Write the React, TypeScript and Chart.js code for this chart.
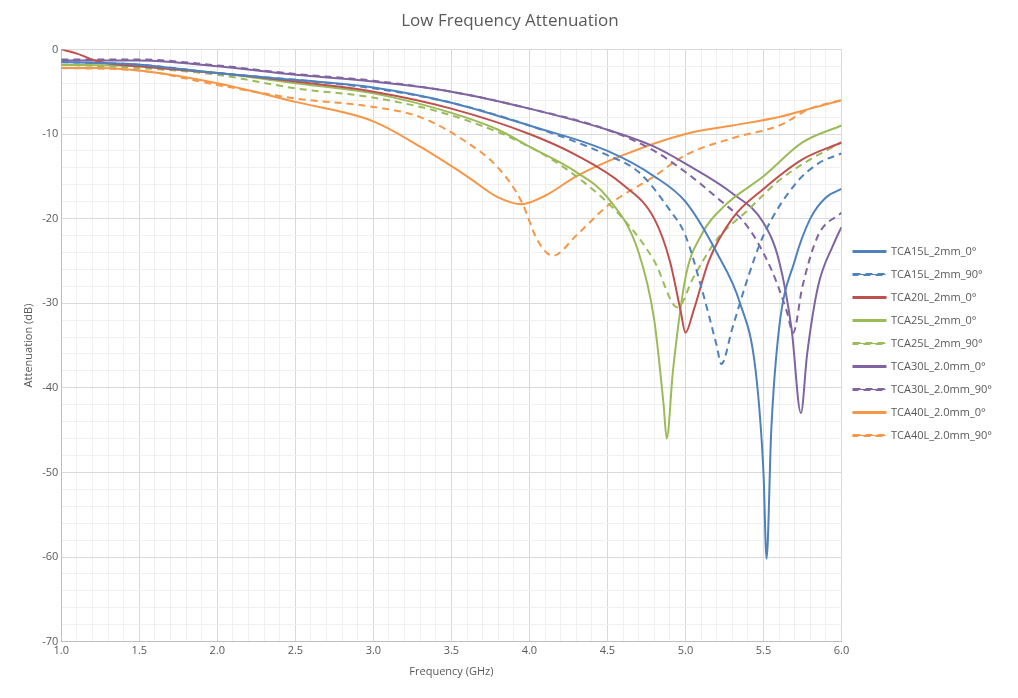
import React, { useEffect, useRef } from "react";
import { Chart, registerables } from "chart.js";
Chart.register(...registerables);

const labels15_0 = [1.0,1.5,2.0,2.5,3.0,3.5,4.0,4.5,4.8,5.0,5.2,5.35,5.45,5.5,5.52,5.55,5.6,5.7,5.8,5.9,6.0];
const vals15_0 = [-1.5,-1.8,-2.8,-3.6,-4.5,-6.3,-9,-12,-15,-18,-24,-30,-38,-50,-60.2,-45,-33,-25,-20,-17.5,-16.5];
const x15_90 = [1.0,1.5,2.0,2.5,3.0,3.5,4.0,4.5,4.7,4.9,5.0,5.1,5.2,5.23,5.3,5.4,5.5,5.7,5.85,6.0];
const y15_90 = [-1.5,-1.8,-2.8,-3.6,-4.6,-6.3,-9,-12.5,-14.5,-19,-22,-28,-35,-37.2,-33,-27,-22,-16,-13.5,-12.3];
const x20_0 = [1.0,1.1,1.25,1.5,2.0,2.5,3.0,3.5,4.0,4.3,4.6,4.8,4.9,4.97,5.0,5.05,5.15,5.3,5.5,5.75,6.0];
const y20_0 = [0,-0.5,-1.5,-2.0,-2.8,-3.8,-5,-7,-10,-12.5,-16,-20,-25,-31,-33.5,-31,-25,-20,-16.5,-13,-11];
const x25_0 = [1.0,1.5,2.0,2.5,3.0,3.5,3.8,4.0,4.3,4.5,4.7,4.8,4.86,4.88,4.92,5.0,5.1,5.25,5.5,5.75,6.0];
const y25_0 = [-1.8,-2,-2.8,-4,-5.2,-7.5,-9.5,-11.5,-14.5,-17.5,-24,-32,-42,-46,-38,-27,-22,-18.5,-15,-11,-9];
const x25_90 = [1.0,1.5,2.0,2.5,3.0,3.5,4.0,4.3,4.6,4.8,4.95,5.05,5.2,5.4,5.6,5.8,6.0];
const y25_90 = [-1.8,-2.2,-3,-4.6,-5.7,-7.8,-11.5,-15,-20,-25,-30.5,-27,-22.5,-19,-15.5,-13,-11];
const x30_0 = [1.0,1.5,2.0,2.5,3.0,3.5,4.0,4.5,4.8,5.0,5.3,5.5,5.6,5.68,5.74,5.78,5.85,5.95,6.0];
const y30_0 = [-1.3,-1.3,-2,-3,-3.8,-5,-7,-9.5,-11.5,-13.5,-17,-20.5,-25,-33,-43,-36,-28,-23,-21];
const x30_90 = [1.0,1.5,2.0,2.5,3.0,3.5,4.0,4.5,4.8,5.0,5.2,5.4,5.55,5.65,5.69,5.75,5.85,6.0];
const y30_90 = [-1.2,-1.2,-1.9,-2.9,-3.7,-5,-7,-9.5,-12,-14.5,-17.5,-21,-26,-31,-33.5,-28,-22,-19.3];
const x40_0 = [1.0,1.25,1.5,2.0,2.5,3.0,3.3,3.6,3.8,3.95,4.1,4.3,4.6,5.0,5.3,5.6,5.8,6.0];
const y40_0 = [-2.2,-2.2,-2.5,-4,-6.2,-8.5,-11.5,-15,-17.5,-18.3,-17.3,-15,-12.5,-10,-9,-8,-7,-6];
const x40_90 = [1.0,1.5,2.0,2.5,3.0,3.3,3.6,3.8,3.95,4.05,4.15,4.3,4.5,4.8,5.0,5.3,5.6,5.8,6.0];
const y40_90 = [-2.2,-2.5,-4.2,-5.8,-6.8,-8,-11,-14,-18,-22.5,-24.4,-22,-18.5,-15,-12.5,-10.5,-9,-7,-6];

const names = ["TCA15L_2mm_0°","TCA15L_2mm_90°","TCA20L_2mm_0°","TCA25L_2mm_0°","TCA25L_2mm_90°","TCA30L_2.0mm_0°","TCA30L_2.0mm_90°","TCA40L_2.0mm_0°","TCA40L_2.0mm_90°"];
const xs = [labels15_0,x15_90,x20_0,x25_0,x25_90,x30_0,x30_90,x40_0,x40_90];
const ys = [vals15_0,y15_90,y20_0,y25_0,y25_90,y30_0,y30_90,y40_0,y40_90];
const colors = ["#4f81bd","#4f81bd","#c0504d","#9bbb59","#9bbb59","#8064a2","#8064a2","#f79646","#f79646"];
const dashed = [false,true,false,false,true,false,true,false,true];

export default function App() {
  const ref = useRef<HTMLCanvasElement>(null);
  useEffect(() => {
    document.body.style.margin = "0";
    const font = "'Open Sans', sans-serif";
    const chart = new Chart(ref.current!, {
      type: "line",
      data: {
        datasets: names.map((n, i) => ({
          label: n,
          data: xs[i].map((x, j) => ({ x, y: ys[i][j] })),
          borderColor: colors[i],
          backgroundColor: colors[i],
          borderWidth: 2,
          borderDash: dashed[i] ? [7, 5] : [],
          pointRadius: 0,
          cubicInterpolationMode: "monotone" as const,
        })),
      },
      options: {
        animation: false,
        responsive: false,
        layout: { padding: { left: 18, right: 16, top: 5, bottom: 16 } },
        plugins: {
          title: { display: true, text: "Low Frequency Attenuation", color: "#595959", font: { family: font, size: 17, weight: "normal" }, padding: { top: 6, bottom: 18 } },
          legend: {
            position: "right",
            labels: { boxWidth: 32, boxHeight: 1, color: "#595959", font: { family: font, size: 11 }, padding: 12 },
          },
          tooltip: { enabled: false },
        },
        scales: {
          x: {
            type: "linear", min: 1, max: 6,
            title: { display: true, text: "Frequency (GHz)", color: "#595959", font: { family: font, size: 11 } },
            ticks: {
              stepSize: 0.1, autoSkip: false, maxRotation: 0, color: "#595959", font: { family: font, size: 11 },
              callback: (v: any) => { const r = Math.round(Number(v) * 10); return r % 5 === 0 ? (r / 10).toFixed(1) : ""; },
            },
            grid: { color: (c: any) => (Math.round(c.tick.value * 10) % 5 === 0 ? "#d9d9d9" : "#f0f0f0"), drawTicks: false },
            border: { color: "#bfbfbf" },
          },
          y: {
            type: "linear", min: -70, max: 0,
            title: { display: true, text: "Attenuation (dB)", color: "#595959", font: { family: font, size: 11 } },
            ticks: {
              stepSize: 2, autoSkip: false, color: "#595959", font: { family: font, size: 11 },
              callback: (v: any) => (Math.round(Number(v)) % 10 === 0 ? String(Math.round(Number(v))) : ""),
            },
            grid: { color: (c: any) => (Math.round(c.tick.value) % 10 === 0 ? "#d9d9d9" : "#f0f0f0"), drawTicks: false },
            border: { color: "#bfbfbf" },
          },
        },
      },
    });
    return () => chart.destroy();
  }, []);
  return <canvas ref={ref} width={1018} height={698} style={{ display: "block" }} />;
}
